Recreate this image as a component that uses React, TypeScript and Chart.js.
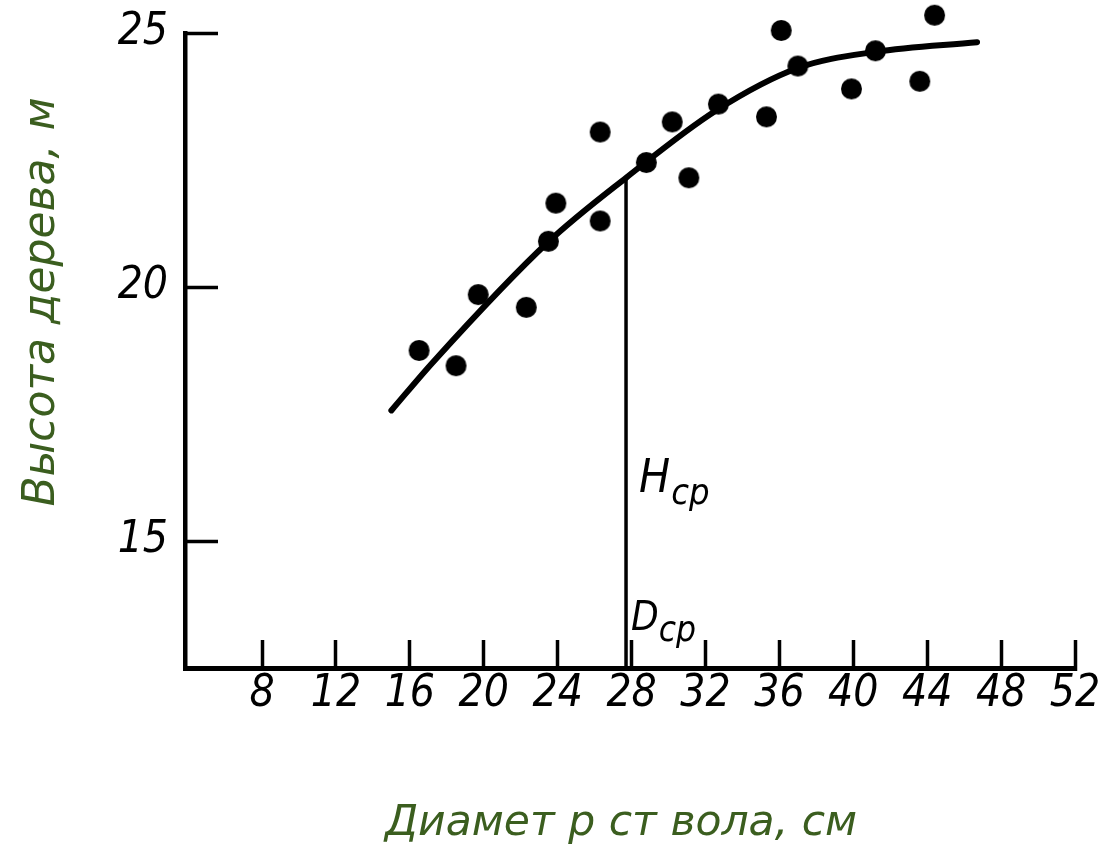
import React, { useEffect, useRef } from 'react';
import { Chart, registerables } from 'chart.js';

Chart.register(...registerables);

// ---- data ----
const treeDiameters = [16.5, 18.5, 19.7, 22.3, 23.5, 23.9, 26.3, 26.3, 28.8, 30.2, 31.1, 32.7, 35.3, 36.1, 37.0, 39.9, 41.2, 43.6, 44.4];
const treeHeights = [18.75, 18.45, 19.85, 19.6, 20.9, 21.65, 23.05, 21.3, 22.45, 23.25, 22.15, 23.6, 23.35, 25.05, 24.35, 23.9, 24.65, 24.05, 25.35];

const curveDiameters = [15.0, 17.25, 23.5, 27.7, 32.6, 37.0, 41.2, 46.7];
const curveHeights = [17.57, 18.52, 20.89, 22.15, 23.48, 24.31, 24.63, 24.82];

const xTickValues = [8, 12, 16, 20, 24, 28, 32, 36, 40, 44, 48, 52];
const yTickValues = [15, 20, 25];

const X_MIN = 3.83;
const X_MAX = 52;
const Y_MIN = 12.5;
const Y_MAX = 25;

const meanDiameter = 27.7;
const meanHeight = 22.15;

const xTitle = 'Диамет р ст вола, см';
const yTitle = 'Высота дерева, м';
const hLabel = 'H';
const dLabel = 'D';
const subLabel = 'ср';

const TICK_FAMILY = "'Liberation Sans Narrow', 'DejaVu Sans Condensed', sans-serif";
const TITLE_FAMILY = "'DejaVu Sans', Verdana, sans-serif";
const TITLE_COLOR = '#3b5e1f';
const DOT_RADIUS = 10.5;

function makeDot(r: number): HTMLCanvasElement {
  const size = Math.ceil(r * 2) + 2;
  const c = document.createElement('canvas');
  c.width = size;
  c.height = size;
  const g = c.getContext('2d');
  if (g) {
    g.fillStyle = '#000';
    g.beginPath();
    g.arc(size / 2, size / 2, r, 0, Math.PI * 2);
    g.fill();
  }
  return c;
}

const textPlugin = {
  id: 'extraText',
  afterDraw(chart: any) {
    const { ctx, scales } = chart;
    ctx.save();
    // axis titles
    ctx.fillStyle = TITLE_COLOR;
    ctx.textAlign = 'center';
    ctx.textBaseline = 'alphabetic';
    ctx.font = `italic 42.5px ${TITLE_FAMILY}`;
    ctx.fillText(xTitle, 621, 835);
    ctx.save();
    ctx.translate(54, 302);
    ctx.rotate(-Math.PI / 2);
    ctx.font = `italic 44px ${TITLE_FAMILY}`;
    ctx.fillText(yTitle, 0, 0);
    ctx.restore();

    // H_ср and D_ср labels next to the mean-diameter line
    const xp = scales.x.getPixelForValue(meanDiameter);
    ctx.fillStyle = '#000';
    ctx.textAlign = 'left';
    ctx.font = `italic 46px ${TICK_FAMILY}`;
    ctx.fillText(hLabel, xp + 13, 492);
    const hw = ctx.measureText(hLabel).width;
    ctx.font = `italic 36px ${TICK_FAMILY}`;
    ctx.fillText(subLabel, xp + 14 + hw, 504);

    ctx.font = `italic 40px ${TICK_FAMILY}`;
    ctx.fillText(dLabel, xp + 5, 630);
    const dw = ctx.measureText(dLabel).width;
    ctx.font = `italic 35px ${TICK_FAMILY}`;
    ctx.fillText(subLabel, xp + 5 + dw, 641);
    ctx.restore();
  },
};

export default function App() {
  const canvasRef = useRef<HTMLCanvasElement | null>(null);

  useEffect(() => {
    document.body.style.margin = '0';
    const canvas = canvasRef.current;
    if (!canvas) return;

    const tickFont = { family: TICK_FAMILY, size: 44, style: 'italic' as const, weight: 'normal' as const };
    const dot = makeDot(DOT_RADIUS);

    const chart = new Chart(canvas, {
      type: 'scatter',
      data: {
        datasets: [
          {
            type: 'scatter',
            data: treeDiameters.map((d, i) => ({ x: d, y: treeHeights[i] })),
            pointStyle: dot,
            pointRadius: 20,
            pointBorderWidth: 0,
            clip: false,
          } as any,
          {
            type: 'line',
            data: curveDiameters.map((d, i) => ({ x: d, y: curveHeights[i] })),
            borderColor: '#000',
            borderWidth: 6,
            pointRadius: 0,
            fill: false,
            cubicInterpolationMode: 'monotone',
            borderCapStyle: 'round',
            clip: false,
          } as any,
          {
            type: 'line',
            data: [
              { x: meanDiameter, y: Y_MIN },
              { x: meanDiameter, y: meanHeight },
            ],
            borderColor: '#000',
            borderWidth: 3.5,
            pointRadius: 0,
            fill: false,
          } as any,
        ],
      },
      options: {
        responsive: false,
        animation: false,
        events: [],
        layout: { padding: { left: 0, top: 33, right: 35, bottom: 0 } },
        plugins: {
          legend: { display: false },
          tooltip: { enabled: false },
          title: { display: false },
        },
        scales: {
          x: {
            type: 'linear',
            position: 'bottom',
            min: X_MIN,
            max: X_MAX,
            afterBuildTicks: (s: any) => {
              s.ticks = xTickValues.map((v) => ({ value: v }));
            },
            afterFit: (s: any) => {
              s.height = 179;
              s.paddingLeft = 0;
              s.paddingRight = 0;
              s.paddingTop = 0;
              s.paddingBottom = 0;
            },
            grid: {
              display: true,
              drawOnChartArea: false,
              drawTicks: true,
              tickLength: -28,
              tickWidth: 3.5,
              tickColor: '#000',
              color: '#000',
            },
            border: { display: true, color: '#000', width: 5 },
            ticks: {
              color: '#000',
              font: tickFont,
              padding: 28,
              maxRotation: 0,
              autoSkip: false,
              callback: (v: any) => String(v),
            },
            title: { display: false },
          },
          y: {
            type: 'linear',
            position: 'left',
            min: Y_MIN,
            max: Y_MAX,
            afterBuildTicks: (s: any) => {
              s.ticks = yTickValues.map((v) => ({ value: v }));
            },
            afterFit: (s: any) => {
              s.width = 185;
              s.paddingLeft = 0;
              s.paddingRight = 0;
              s.paddingTop = 0;
              s.paddingBottom = 0;
            },
            grid: {
              display: true,
              drawOnChartArea: false,
              drawTicks: true,
              tickLength: -33,
              tickWidth: 3.5,
              tickColor: '#000',
              color: '#000',
            },
            border: { display: true, color: '#000', width: 4.5 },
            ticks: {
              color: '#000',
              font: tickFont,
              padding: 50,
              autoSkip: false,
              callback: (v: any) => String(v),
            },
            title: { display: false },
          },
        },
      } as any,
      plugins: [textPlugin],
    });

    return () => {
      chart.destroy();
    };
  }, []);

  return (
    <div style={{ width: 1110, height: 847, background: '#fff' }}>
      <canvas ref={canvasRef} width={1110} height={847} style={{ display: 'block' }} />
    </div>
  );
}
